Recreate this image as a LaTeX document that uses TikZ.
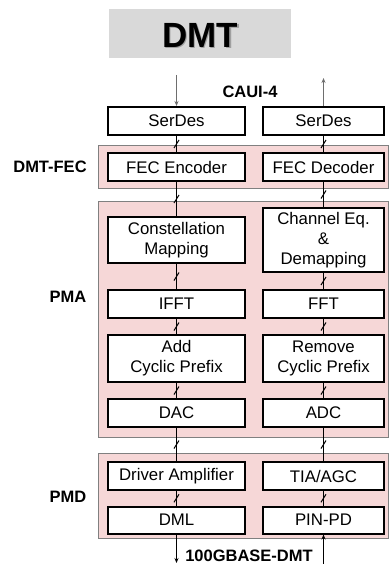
\documentclass[tikz,border=0pt]{standalone}
\usepackage{fontspec}
\setmainfont{Liberation Sans}
\usetikzlibrary{arrows.meta,decorations.markings}
\definecolor{bandpink}{RGB}{246,215,215}
\definecolor{titlegray}{RGB}{217,217,217}
\definecolor{arrowgray}{RGB}{110,110,110}

\begin{document}
\begin{tikzpicture}[x=1pt,y=-1pt,>={Stealth[length=5pt,width=4pt]},
  block/.style={draw,line width=2pt,fill=white,minimum height=28pt,inner sep=0pt,align=center,font=\fontsize{16.8}{20}\selectfont},
  lblock/.style={block,minimum width=137pt},
  rblock/.style={block,minimum width=121pt},
  layer/.style={font=\bfseries\fontsize{16.5}{20}\selectfont},
  band/.style={fill=bandpink,draw=gray,line width=0.8pt},
  bus/.style={line width=1pt,postaction={decorate},
    decoration={markings,mark=at position 0.5 with {\draw[line width=1pt] (-4pt,2.5pt) -- (4pt,-2.5pt);}}}]
\useasboundingbox (0,0) rectangle (389,564);

% title
\fill[titlegray] (109,9) rectangle (291,58);
\node[text=gray!75,font=\bfseries\fontsize{35}{40}\selectfont] at (201.5,36.5) {DMT};
\node (title) [font=\bfseries\fontsize{35}{40}\selectfont] at (200,35) {DMT};

% layers
\draw[band] (98,145) rectangle (388,188);
\draw[band] (98,201) rectangle (388,437);
\draw[band] (98,453) rectangle (388,538);
\node (caui) [layer] at (250,92) {CAUI-4};
\node (fec) [layer] at (50,167) {DMT-FEC};
\node (pma) [layer] at (68,297) {PMA};
\node (pmd) [layer] at (68,497) {PMD};
\node (phy) [layer] at (249,556) {100GBASE-DMT};

% transmit side
\node (serL) [lblock] at (176.5,121) {SerDes};
\node (fecL) [lblock] at (176.5,167) {FEC Encoder};
\node (conL) [lblock,minimum height=46pt] at (176.5,240) {Constellation\\Mapping};
\node (ifft) [lblock] at (176.5,304) {IFFT};
\node (addcp) [lblock,minimum height=47pt] at (176.5,358.5) {Add\\Cyclic Prefix};
\node (dac) [lblock] at (176.5,413) {DAC};
\node (drv) [lblock] at (176.5,476) {Driver Amplifier};
\node (dml) [lblock,minimum height=27pt] at (176.5,520) {DML};

% receive side
\node (serR) [rblock] at (323.5,121) {SerDes};
\node (fecR) [rblock] at (323.5,167) {FEC Decoder};
\node (chR) [rblock,minimum height=64pt] at (323.5,240) {Channel Eq.\\\&\\Demapping};
\node (fft) [rblock] at (323.5,304) {FFT};
\node (remcp) [rblock,minimum height=47pt] at (323.5,358.5) {Remove\\Cyclic Prefix};
\node (adc) [rblock] at (323.5,413) {ADC};
\node (tia) [rblock] at (323.5,476) {TIA/AGC};
\node (pin) [rblock,minimum height=27pt] at (323.5,520) {PIN-PD};

\draw[bus] (serL) -- (fecL);
\draw[bus] (fecL) -- (conL);
\draw[bus] (conL) -- (ifft);
\draw[bus] (ifft) -- (addcp);
\draw[bus] (addcp) -- (dac);
\draw[bus] (dac) -- (drv);
\draw[bus] (drv) -- (dml);

\draw[bus] (serR) -- (fecR);
\draw[bus] (fecR) -- (chR);
\draw[bus] (chR) -- (fft);
\draw[bus] (fft) -- (remcp);
\draw[bus] (remcp) -- (adc);
\draw[bus] (adc) -- (tia);
\draw[bus] (tia) -- (pin);

\coordinate (inL) at (176.5,75);
\coordinate (outR) at (323.5,78);
\coordinate (outL) at (176.5,563);
\coordinate (inR) at (323.5,566);
\draw[->,arrowgray,line width=1pt] (inL) -- (serL);
\draw[->,arrowgray,line width=1pt] (serR) -- (outR);
\draw[->,line width=1pt] (dml) -- (outL);
\draw[->,line width=1pt] (inR) -- (pin);
\end{tikzpicture}
\end{document}
